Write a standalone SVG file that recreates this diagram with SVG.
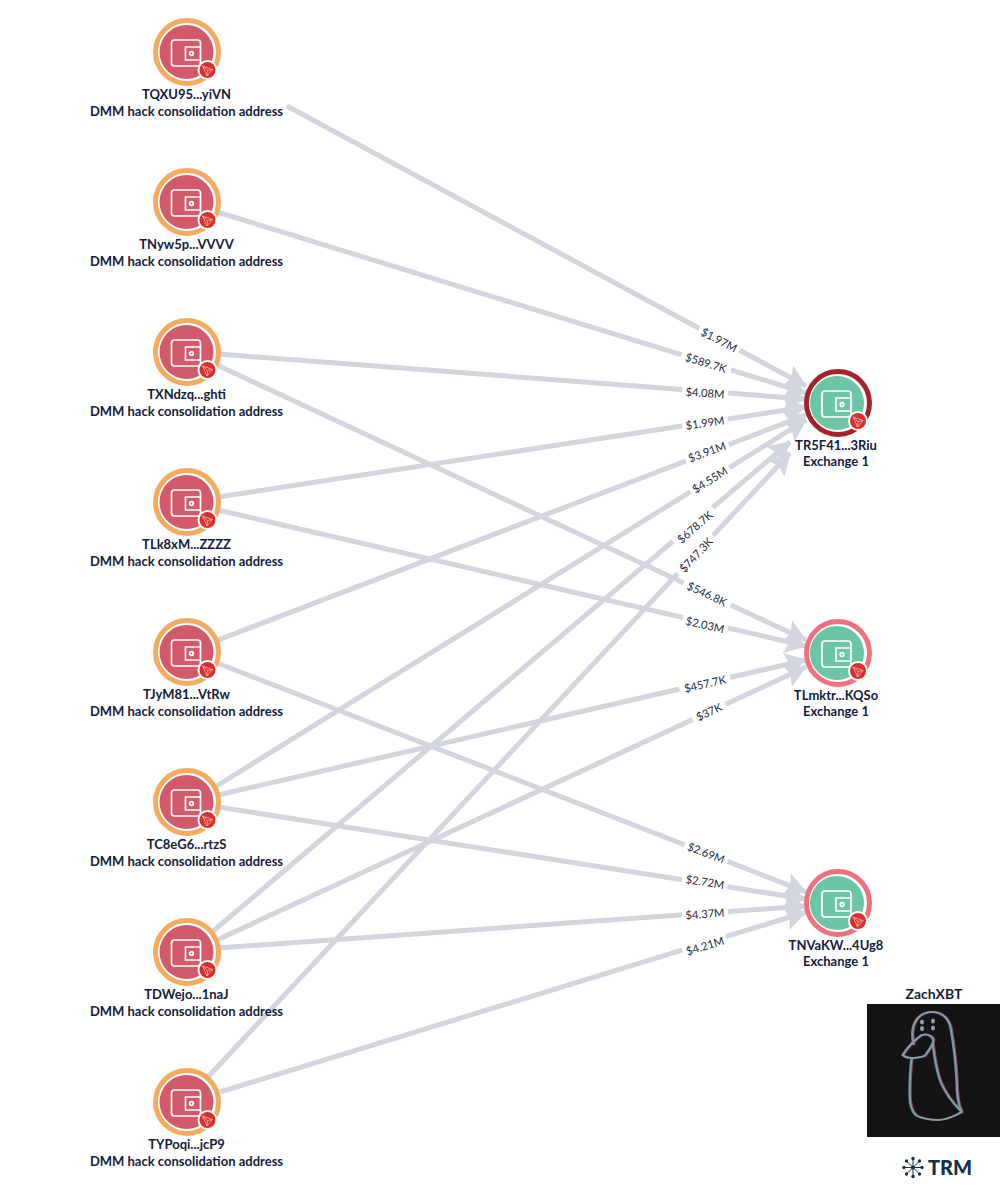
<svg xmlns="http://www.w3.org/2000/svg" width="1000" height="1200" viewBox="0 0 1000 1200">
<style>
text{font-family:"Lato","Liberation Sans",sans-serif;text-anchor:middle}
.n{font-size:13px;font-weight:700;fill:#14203a}
.e{font-size:11.200px;fill:#1e2a40}
.c line{stroke:#d4d6df;stroke-width:5;marker-end:url(#a)}
.h{fill:#fff}
.w{fill:none;stroke:#fff;stroke-width:1.7}
.src{fill:#d35a6b}.dst{fill:#6cc6a5}
.ro{fill:none;stroke:#f3ac5e;stroke-width:5}
.rd{fill:none;stroke:#a3232c;stroke-width:5}
.rp{fill:none;stroke:#ee7182;stroke-width:5}
.p{fill:none;stroke-width:1.8;stroke-linejoin:round}
</style>
<defs>
<marker id="a" viewBox="0 0 22 24" markerUnits="userSpaceOnUse" markerWidth="22" markerHeight="24" refX="21" refY="12" orient="auto"><path d="M0 0L22 12L0 24L4 12Z" fill="#d4d6df"/></marker>
<g id="ic">
<rect class="w" x="-15" y="-12" width="29" height="26" rx="3"/>
<path class="w" d="M14-5H-1V8H14"/><circle class="w" cx="5" cy="1.500" r="1.800"/>
<circle cx="21" cy="18" r="10" fill="#fff"/><circle cx="21" cy="18" r="8" fill="#d9302e"/>
<path d="M16 14L26 17.500L20.500 24ZM16 14L21 18.500L20.500 24M21 18.500L26 17.500" fill="none" stroke="#f6b5ae" stroke-width=".8"/>
</g>
<g id="penguin">
<path d="M913 1030C915 1016 925 1012 932 1012C942 1012 949 1018 951 1028C954 1045 956 1060 957 1080C957 1092 958 1104 962 1112C955 1116 947 1120 938 1120C930 1120 920 1118 916 1115C912 1111 910 1105 910 1095C910 1080 911 1065 912 1058M913 1030C912 1035 913 1040 914 1045"/>
<path d="M912 1058C908 1058 905 1057 903 1055C908 1047 915 1040 922 1035C926 1034 930 1035 932 1037C934 1039 934 1041 933 1043C931 1048 928 1052 925 1056C920 1057 916 1058 912 1058Z"/>
<path d="M933 1043C935 1060 937 1072 941 1082C946 1094 954 1104 962 1112"/>
</g>
</defs>
<rect width="1000" height="1200" fill="#fff"/>
<g id="connectors" class="c">
<line x1="287" y1="106" x2="806" y2="386"/>
<line x1="217" y1="212" x2="806" y2="393"/>
<line x1="218" y1="354" x2="806" y2="399"/>
<line x1="218" y1="497" x2="806" y2="407"/>
<line x1="218" y1="640" x2="806" y2="415"/>
<line x1="215" y1="787" x2="806" y2="420"/>
<line x1="212" y1="932" x2="790" y2="442"/>
<line x1="207" y1="1078" x2="790" y2="453"/>
<line x1="217" y1="365" x2="806" y2="640"/>
<line x1="218" y1="510" x2="806" y2="646"/>
<line x1="218" y1="795" x2="806" y2="660"/>
<line x1="217" y1="940" x2="806" y2="667"/>
<line x1="217" y1="663" x2="806" y2="892"/>
<line x1="218" y1="807" x2="806" y2="899"/>
<line x1="218" y1="948" x2="806" y2="906"/>
<line x1="220" y1="1092" x2="806" y2="912"/>
</g>
<g id="edge-labels">
<g transform="translate(719 340) rotate(28)"><rect class="h" x="-23" y="-8" width="46" height="15"/><text class="e" y="4">$1.97M</text></g>
<g transform="translate(706 363) rotate(17)"><rect class="h" x="-26" y="-8" width="52" height="15"/><text class="e" y="4">$589.7K</text></g>
<g transform="translate(705 393) rotate(4)"><rect class="h" x="-23" y="-8" width="46" height="15"/><text class="e" y="4">$4.08M</text></g>
<g transform="translate(705 423) rotate(-8)"><rect class="h" x="-23" y="-8" width="46" height="15"/><text class="e" y="4">$1.99M</text></g>
<g transform="translate(707 452) rotate(-20)"><rect class="h" x="-23" y="-8" width="46" height="15"/><text class="e" y="4">$3.91M</text></g>
<g transform="translate(710 480) rotate(-32)"><rect class="h" x="-23" y="-8" width="46" height="15"/><text class="e" y="4">$4.55M</text></g>
<g transform="translate(695 527) rotate(-41)"><rect class="h" x="-26" y="-8" width="52" height="15"/><text class="e" y="4">$678.7K</text></g>
<g transform="translate(696 555) rotate(-47)"><rect class="h" x="-26" y="-8" width="52" height="15"/><text class="e" y="4">$747.3K</text></g>
<g transform="translate(707 594) rotate(25)"><rect class="h" x="-26" y="-8" width="52" height="15"/><text class="e" y="4">$546.8K</text></g>
<g transform="translate(705 625) rotate(13)"><rect class="h" x="-23" y="-8" width="46" height="15"/><text class="e" y="4">$2.03M</text></g>
<g transform="translate(705 684) rotate(-13)"><rect class="h" x="-26" y="-8" width="52" height="15"/><text class="e" y="4">$457.7K</text></g>
<g transform="translate(709 712) rotate(-25)"><rect class="h" x="-18" y="-8" width="36" height="15"/><text class="e" y="4">$37K</text></g>
<g transform="translate(706 853) rotate(21)"><rect class="h" x="-23" y="-8" width="46" height="15"/><text class="e" y="4">$2.69M</text></g>
<g transform="translate(705 882) rotate(9)"><rect class="h" x="-23" y="-8" width="46" height="15"/><text class="e" y="4">$2.72M</text></g>
<g transform="translate(705 914) rotate(-4)"><rect class="h" x="-23" y="-8" width="46" height="15"/><text class="e" y="4">$4.37M</text></g>
<g transform="translate(705 946) rotate(-17)"><rect class="h" x="-23" y="-8" width="46" height="15"/><text class="e" y="4">$4.21M</text></g>
</g>
<g id="n1"><circle class="ro" cx="187" cy="52" r="31.500"/><circle class="src" cx="186.500" cy="52" r="27"/><use href="#ic" x="186.500" y="52"/><text class="n" x="186.500" y="99">TQXU95...yiVN</text><text class="n" x="186.500" y="116">DMM hack consolidation address</text></g>
<g id="n2"><circle class="ro" cx="187" cy="202" r="31.500"/><circle class="src" cx="186.500" cy="202" r="27"/><use href="#ic" x="186.500" y="202"/><text class="n" x="186.500" y="249">TNyw5p...VVVV</text><text class="n" x="186.500" y="266">DMM hack consolidation address</text></g>
<g id="n3"><circle class="ro" cx="187" cy="352" r="31.500"/><circle class="src" cx="186.500" cy="352" r="27"/><use href="#ic" x="186.500" y="352"/><text class="n" x="186.500" y="399">TXNdzq...ghti</text><text class="n" x="186.500" y="416">DMM hack consolidation address</text></g>
<g id="n4"><circle class="ro" cx="187" cy="502" r="31.500"/><circle class="src" cx="186.500" cy="502" r="27"/><use href="#ic" x="186.500" y="502"/><text class="n" x="186.500" y="549">TLk8xM...ZZZZ</text><text class="n" x="186.500" y="566">DMM hack consolidation address</text></g>
<g id="n5"><circle class="ro" cx="187" cy="652" r="31.500"/><circle class="src" cx="186.500" cy="652" r="27"/><use href="#ic" x="186.500" y="652"/><text class="n" x="186.500" y="699">TJyM81...VtRw</text><text class="n" x="186.500" y="716">DMM hack consolidation address</text></g>
<g id="n6"><circle class="ro" cx="187" cy="802" r="31.500"/><circle class="src" cx="186.500" cy="802" r="27"/><use href="#ic" x="186.500" y="802"/><text class="n" x="186.500" y="849">TC8eG6...rtzS</text><text class="n" x="186.500" y="866">DMM hack consolidation address</text></g>
<g id="n7"><circle class="ro" cx="187" cy="952" r="31.500"/><circle class="src" cx="186.500" cy="952" r="27"/><use href="#ic" x="186.500" y="952"/><text class="n" x="186.500" y="999">TDWejo...1naJ</text><text class="n" x="186.500" y="1016">DMM hack consolidation address</text></g>
<g id="n8"><circle class="ro" cx="187" cy="1102" r="31.500"/><circle class="src" cx="186.500" cy="1102" r="27"/><use href="#ic" x="186.500" y="1102"/><text class="n" x="186.500" y="1149">TYPoqi...jcP9</text><text class="n" x="186.500" y="1166">DMM hack consolidation address</text></g>
<g id="r1"><circle class="rd" cx="838" cy="403" r="31.500"/><circle class="dst" cx="837" cy="403" r="27"/><use href="#ic" x="837" y="403"/><text class="n" x="836" y="450">TR5F41...3Riu</text><text class="n" x="836" y="466">Exchange 1</text></g>
<g id="r2"><circle class="rp" cx="838" cy="653" r="31.500"/><circle class="dst" cx="837" cy="653" r="27"/><use href="#ic" x="837" y="653"/><text class="n" x="836" y="700">TLmktr...KQSo</text><text class="n" x="836" y="716">Exchange 1</text></g>
<g id="r3"><circle class="rp" cx="838" cy="903" r="31.500"/><circle class="dst" cx="837" cy="903" r="27"/><use href="#ic" x="837" y="903"/><text class="n" x="836" y="950">TNVaKW...4Ug8</text><text class="n" x="836" y="966">Exchange 1</text></g>
<g id="zach">
<text class="n" x="934" y="999" style="font-size:14px">ZachXBT</text>
<rect x="867" y="1004" width="133" height="133" fill="#141414"/>
<use href="#penguin" class="p" stroke="#8a4a5c" x="0.800" y="0"/>
<use href="#penguin" class="p" stroke="#5f8fa3" x="-0.800" y="0"/>
<use href="#penguin" class="p" stroke="#8f9da8" style="stroke-width:1.200"/>
<g fill="#8f9da8"><ellipse cx="922" cy="1022" rx="2" ry="2.500"/><ellipse cx="933" cy="1021" rx="2" ry="2.500"/><ellipse cx="922" cy="1028.500" rx="2" ry="2.500"/><ellipse cx="933" cy="1028" rx="2" ry="2.500"/></g>
</g>
<g id="trm-logo">
<path d="M913 1158V1177M903.500 1167.500H922.500M906.500 1161L919.500 1174M919.500 1161L906.500 1174" stroke="#14304e" stroke-width="1"/>
<circle cx="913" cy="1167.500" r="2" fill="#14304e"/>
<g fill="#14304e"><circle cx="913" cy="1158.500" r="1.700"/><circle cx="913" cy="1176.500" r="1.700"/><circle cx="904" cy="1167.500" r="1.700"/><circle cx="922" cy="1167.500" r="1.700"/><circle cx="906.500" cy="1161" r="1.700"/><circle cx="919.500" cy="1161" r="1.700"/><circle cx="906.500" cy="1174" r="1.700"/><circle cx="919.500" cy="1174" r="1.700"/></g>
<text x="950" y="1174.500" style="font-size:20px;font-weight:900;fill:#14304e">TRM</text>
</g>
</svg>
